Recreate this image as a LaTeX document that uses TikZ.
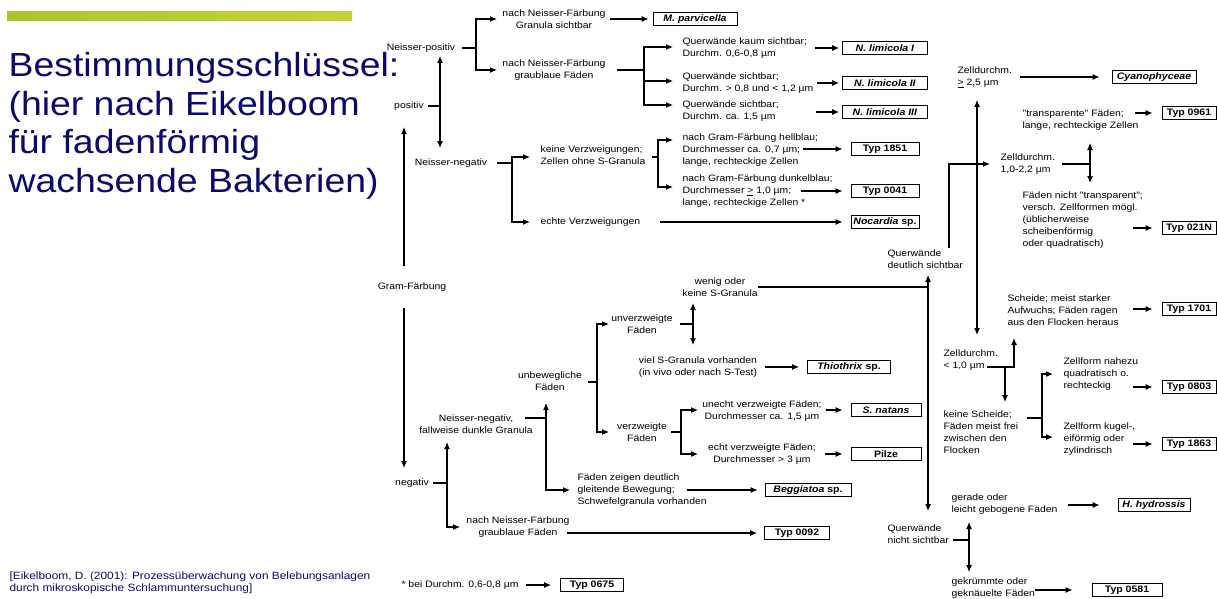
\documentclass[tikz,border=0pt]{standalone}
\usepackage{fontspec}
\newfontfamily\diagfont{Liberation Sans}[FakeStretch=1.12]
\usepackage{tikz}
\usetikzlibrary{arrows.meta,positioning,calc}
\definecolor{titleblue}{RGB}{10,10,110}
\definecolor{barlimeA}{RGB}{172,196,44}
\definecolor{barlimeB}{RGB}{196,212,56}

\begin{document}
\begin{tikzpicture}[x=1pt, y=-1pt, line width=1.1pt,
  lbl/.style={font=\diagfont\fontsize{9.3}{12}\selectfont, inner sep=0pt, align=center},
  lbll/.style={lbl, align=left, anchor=west},
  res/.style={draw, line width=0.9pt, font=\diagfont\fontsize{9.4}{11}\selectfont\bfseries, minimum width=68pt, minimum height=13pt, inner sep=1pt},
  resr/.style={res, minimum width=54pt},
  arr/.style={-{Latex[length=7pt,width=6pt]}},
  dbl/.style={{Latex[length=7pt,width=6pt]}-{Latex[length=7pt,width=6pt]}}]
 \useasboundingbox (0,0) rectangle (1217,599);

 % title and source
 \fill[left color=barlimeA, right color=barlimeB] (7,12) rectangle (352,21);
 \node[anchor=north west, inner sep=0pt, align=left, text=titleblue, font=\diagfont\fontsize{33.4}{38.5}\selectfont] (title) at (8,52) {Bestimmungsschlüssel:\\(hier nach Eikelboom\\für fadenförmig\\wachsende Bakterien)};
 \node[lbll, text=titleblue, font=\diagfont\fontsize{10.6}{12}\selectfont] (cite) at (9,583) {[Eikelboom, D. (2001): Prozessüberwachung von Belebungsanlagen\\durch mikroskopische Schlammuntersuchung]};

 % Gram-positiv
 \node[lbl] (npos) at (421,48) {Neisser-positiv};
 \node[lbl] (nachgran) at (554,19) {nach Neisser-Färbung\\Granula sichtbar};
 \node[lbl] (nachgrau) at (554,70) {nach Neisser-Färbung\\graublaue Fäden};
 \node[res, minimum width=84pt] (mparv) at (695,19) {\textit{M. parvicella}};
 \node[lbll] (qkaum) at (682,48) {Querwände kaum sichtbar;\\Durchm. 0,6-0,8 µm};
 \node[lbll] (qs2) at (682,83) {Querwände sichtbar;\\Durchm. > 0,8 und < 1,2 µm};
 \node[lbll] (qs3) at (682,111) {Querwände sichtbar;\\Durchm. ca. 1,5 µm};
 \node[res, minimum width=85pt] (nlim1) at (885,48) {\textit{N. limicola I}};
 \node[res, minimum width=85pt] (nlim2) at (885,83) {\textit{N. limicola II}};
 \node[res, minimum width=85pt] (nlim3) at (885,112) {\textit{N. limicola III}};
 \node[lbl] (posi) at (409,106) {positiv};
 \node[lbl] (nneg) at (451,163) {Neisser-negativ};
 \node[lbll] (keine) at (540,155) {keine Verzweigungen;\\Zellen ohne S-Granula};
 \node[lbll] (echte) at (540,222) {echte Verzweigungen};
 \node[lbll] (hell) at (682,150) {nach Gram-Färbung hellblau;\\Durchmesser ca. 0,7 µm;\\lange, rechteckige Zellen};
 \node[lbll] (dunkel) at (682,191) {nach Gram-Färbung dunkelblau;\\Durchmesser \underline{>} 1,0 µm;\\lange, rechteckige Zellen *};
 \node[res] (t1851) at (885,149) {Typ 1851};
 \node[res] (t0041) at (885,191) {Typ 0041};
 \node[res] (nocard) at (885,222) {\textit{Nocardia} sp.};

 % Gram-negativ
 \node[lbl] (gram) at (412,287) {Gram-Färbung};
 \node[lbl] (nega) at (412,483) {negativ};
 \node[lbl] (nnegfw) at (476,424) {Neisser-negativ,\\fallweise dunkle Granula};
 \node[lbl] (nachgrau2) at (518,527) {nach Neisser-Färbung\\graublaue Fäden};
 \node[lbl] (unbew) at (550,381) {unbewegliche\\Fäden};
 \node[lbll] (gleit) at (577,490) {Fäden zeigen deutlich\\gleitende Bewegung;\\Schwefelgranula vorhanden};
 \node[lbl] (unverz) at (642,324) {unverzweigte\\Fäden};
 \node[lbl] (verz) at (642,432) {verzweigte\\Fäden};
 \node[lbl] (wenig) at (720,287) {wenig oder\\keine S-Granula};
 \node[lbl] (viel) at (698,367) {viel S-Granula vorhanden\\(in vivo oder nach S-Test)};
 \node[lbl] (unecht) at (762,411) {unecht verzweigte Fäden;\\Durchmesser ca. 1,5 µm};
 \node[lbl] (echt) at (762,454) {echt verzweigte Fäden;\\Durchmesser > 3 µm};
 \node[res, minimum width=83pt] (thio) at (849,367) {\textit{Thiothrix} sp.};
 \node[res, minimum width=70pt] (snat) at (886,410) {\textit{S. natans}};
 \node[res, minimum width=70pt] (pilze) at (886,454) {Pilze};
 \node[res, minimum width=86pt] (begg) at (808,490) {\textit{Beggiatoa} sp.};
 \node[res, minimum width=65pt] (t0092) at (797,533) {Typ 0092};
 \node[lbl] (star) at (460,585) {* bei Durchm. 0,6-0,8 µm};
 \node[res, minimum width=63pt] (t0675) at (592,585) {Typ 0675};

 % Querwaende
 \node[lbll] (qdeut) at (887,259) {Querwände\\deutlich sichtbar};
 \node[lbll] (qnicht) at (887,534) {Querwände\\nicht sichtbar};
 \node[lbll] (zd25) at (957,77) {Zelldurchm.\\\underline{>} 2,5 µm};
 \node[res, minimum width=84pt] (cyano) at (1154,77) {\textit{Cyanophyceae}};
 \node[lbll] (zd10) at (1000,164) {Zelldurchm.\\1,0-2,2 µm};
 \node[lbll] (transp) at (1022,120) {"transparente" Fäden;\\lange, rechteckige Zellen};
 \node[lbll] (nichttr) at (1022,220) {Fäden nicht "transparent";\\versch. Zellformen mögl.\\(üblicherweise\\scheibenförmig\\oder quadratisch)};
 \node[resr] (t0961) at (1189,113) {Typ 0961};
 \node[resr] (t021n) at (1189,228) {Typ 021N};
 \node[lbll] (zd1) at (943,360) {Zelldurchm.\\< 1,0 µm};
 \node[lbll] (scheide) at (1007,310) {Scheide; meist starker\\Aufwuchs; Fäden ragen\\aus den Flocken heraus};
 \node[lbll] (kscheide) at (943,432) {keine Scheide;\\Fäden meist frei\\zwischen den\\Flocken};
 \node[lbll] (quadr) at (1063,374) {Zellform nahezu\\quadratisch o.\\rechteckig};
 \node[lbll] (kugel) at (1063,439) {Zellform kugel-,\\eiförmig oder\\zylindrisch};
 \node[resr] (t1701) at (1189,309) {Typ 1701};
 \node[resr] (t0803) at (1189,387) {Typ 0803};
 \node[resr] (t1863) at (1189,444) {Typ 1863};
 \node[lbll] (gerade) at (951,504) {gerade oder\\leicht gebogene Fäden};
 \node[lbll] (gekr) at (951,588) {gekrümmte oder\\geknäuelte Fäden};
 \node[res, minimum width=72pt] (hhyd) at (1154,505) {\textit{H. hydrossis}};
 \node[res, minimum width=70pt] (t0581) at (1127,590) {Typ 0581};

 % connectors, positiv branch
 \draw[arr] ($(npos)+(41,0)$) -- ++(14,0) |- ($(nachgran)+(-57,0)$);
 \draw[arr] ($(npos)+(41,0)$) -- ++(14,0) |- ($(nachgrau)+(-57,0)$);
 \draw[arr] ($(nachgran)+(56,0)$) -- ($(mparv.west)+(-4,0)$);
 \draw[arr] ($(nachgrau)+(63,0)$) -- ++(27,0) |- ($(qkaum.west)+(-9,-1)$);
 \draw[arr] ($(nachgrau)+(63,0)$) -- ++(27,0) |- ($(qs2.west)+(-9,-2)$);
 \draw[arr] ($(nachgrau)+(63,0)$) -- ++(27,0) |- ($(qs3.west)+(-9,-6)$);
 \draw[arr] ($(qkaum.west)+(133,0)$) -- ($(nlim1.west)+(-3,0)$);
 \draw[arr] ($(qs2.west)+(135,0)$) -- ($(nlim2.west)+(-3,0)$);
 \draw[arr] ($(qs3.west)+(134,1)$) -- ($(nlim3.west)+(-3,0)$);
 \draw ($(posi)+(19,0)$) -- ++(12,0);
 \draw[dbl] ($(npos)+(19,8)$) -- ($(nneg)+(-11,-15)$);
 \draw[arr] ($(gram)+(-8,-21)$) -- ($(posi)+(-5,21)$);
 \draw[arr] ($(gram)+(-8,21)$) -- ($(nega)+(-8,-15)$);
 \draw[arr] ($(nneg)+(46,0)$) -- ++(15,0) |- ($(keine.west)+(-10,2)$);
 \draw[arr] ($(nneg)+(46,0)$) -- ++(15,0) |- ($(echte.west)+(-10,0)$);
 \draw[arr] ($(keine.west)+(112,2)$) -- ++(6,0) |- ($(hell.west)+(-9,-10)$);
 \draw[arr] ($(keine.west)+(112,2)$) -- ++(6,0) |- ($(dunkel.west)+(-9,-4)$);
 \draw[arr] ($(echte.west)+(120,0)$) -- ($(nocard.west)+(-8,0)$);
 \draw[arr] ($(hell.west)+(121,-1)$) -- ($(t1851.west)+(-8,0)$);
 \draw[arr] ($(dunkel.west)+(119,0)$) -- ($(t0041.west)+(-8,0)$);

 % negativ branch
 \draw ($(nega)+(21,0)$) -- ++(14,0) coordinate (negj);
 \draw[arr] (negj) -- ($(nnegfw)+(-29,18)$);
 \draw[arr] (negj) |- ($(nachgrau2)+(-58,0)$);
 \draw[arr] ($(nachgrau2)+(49,6)$) -- ($(t0092.west)+(-7,0)$);
 \draw ($(nnegfw)+(49,-6)$) -- ++(21,0) coordinate (fwj);
 \draw[arr] (fwj) -- ($(unbew)+(-4,22)$);
 \draw[arr] (fwj) |- ($(gleit.west)+(-7,0)$);
 \draw[arr] ($(gleit.west)+(110,0)$) -- ($(begg.west)+(-7,0)$);
 \draw[arr] ($(unbew)+(38,1)$) -- ++(9,0) |- ($(unverz)+(-33,0)$);
 \draw[arr] ($(unbew)+(38,1)$) -- ++(9,0) |- ($(verz)+(-33,0)$);
 \draw ($(unverz)+(38,0)$) -- ++(13,0);
 \draw[dbl] ($(wenig)+(-27,16)$) -- ($(viel)+(-5,-22)$);
 \draw[arr] ($(viel)+(67,0)$) -- ($(thio.west)+(-8,0)$);
 \draw[arr] ($(verz)+(29,0)$) -- ++(10,0) |- ($(unecht)+(-64,-1)$);
 \draw[arr] ($(verz)+(29,0)$) -- ++(10,0) |- ($(echt)+(-64,0)$);
 \draw[arr] ($(unecht)+(64,-1)$) -- ($(snat.west)+(-8,0)$);
 \draw[arr] ($(echt)+(63,0)$) -- ($(pilze.west)+(-8,0)$);
 \draw[arr] ($(star)+(66,0)$) -- ($(t0675.west)+(-9,0)$);

 % Querwaende branch
 \draw ($(wenig)+(38,0)$) -- ($(qdeut.west)+(41,28)$) coordinate (qj);
 \draw[arr] (qj) -- ($(qdeut.west)+(41,16)$);
 \draw[arr] (qj) -- ($(qnicht.west)+(41,-23)$);
 \draw[arr] ($(qdeut.west)+(62,-11)$) |- ($(zd10.west)+(-10,0)$);
 \draw[dbl] ($(zd25.west)+(20,23)$) -- ($(zd1.west)+(34,-25)$);
 \draw[arr] ($(zd25.west)+(63,0)$) -- ($(cyano.west)+(-12,0)$);
 \draw ($(zd10.west)+(62,0)$) -- ++(28,0);
 \draw[dbl] ($(transp.west)+(68,23)$) -- ($(nichttr.west)+(68,-37)$);
 \draw[arr] ($(transp.west)+(113,-7)$) -- ($(t0961.west)+(-9,0)$);
 \draw[arr] ($(nichttr.west)+(111,8)$) -- ($(t021n.west)+(-9,0)$);
 \draw[arr] ($(zd1.west)+(44,7)$) -- ++(27,0) -- ($(scheide.west)+(7,28)$);
 \draw[arr] ($(zd1.west)+(62,7)$) -- ($(kscheide.west)+(62,-30)$);
 \draw[arr] ($(scheide.west)+(126,-1)$) -- ($(t1701.west)+(-9,0)$);
 \draw[arr] ($(kscheide.west)+(84,-14)$) -- ++(15,0) |- ($(quadr.west)+(-10,0)$);
 \draw[arr] ($(kscheide.west)+(84,-14)$) -- ++(15,0) |- ($(kugel.west)+(-10,-2)$);
 \draw[arr] ($(quadr.west)+(70,13)$) -- ($(t0803.west)+(-9,0)$);
 \draw[arr] ($(kugel.west)+(70,5)$) -- ($(t1863.west)+(-9,0)$);
 \draw ($(qnicht.west)+(66,6)$) -- ++(16,0);
 \draw[dbl] ($(gerade.west)+(18,18)$) -- ($(gekr.west)+(18,-16)$);
 \draw[arr] ($(gerade.west)+(117,1)$) -- ($(hhyd.west)+(-18,0)$);
 \draw[arr] ($(gekr.west)+(84,2)$) -- ($(t0581.west)+(-19,0)$);
\end{tikzpicture}
\end{document}
